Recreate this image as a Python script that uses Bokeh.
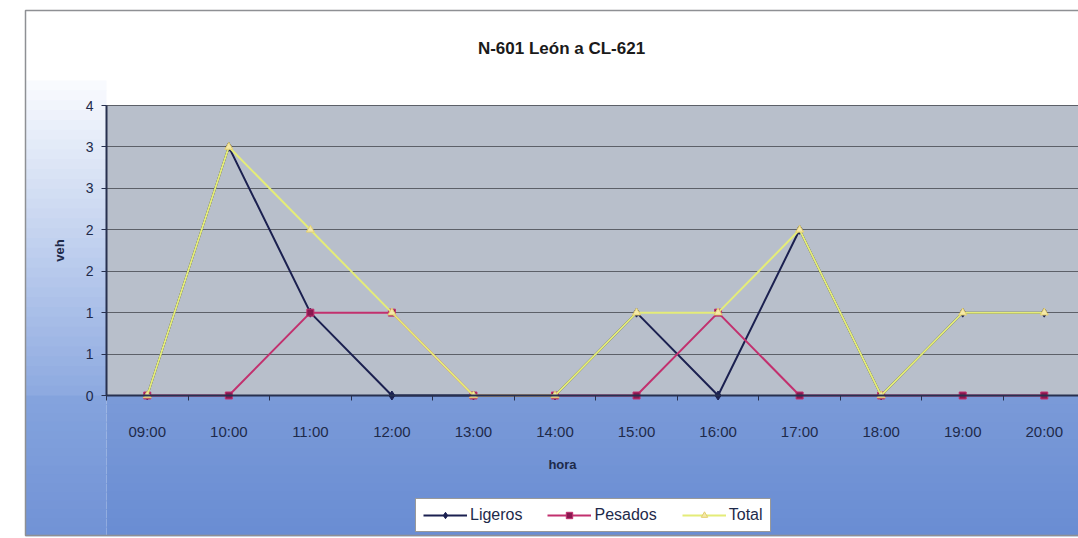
from bokeh.plotting import figure
from bokeh.models import FixedTicker, Label, Legend, LegendItem
from bokeh.embed import file_html
from bokeh.resources import INLINE

# ---- data ----
hours = ["09:00", "10:00", "11:00", "12:00", "13:00", "14:00",
         "15:00", "16:00", "17:00", "18:00", "19:00", "20:00"]
ligeros = [0, 3, 1, 0, 0, 0, 1, 0, 2, 0, 1, 1]
pesados = [0, 0, 1, 1, 0, 0, 0, 1, 0, 0, 0, 0]
total = [0, 3, 2, 1, 0, 0, 1, 1, 2, 0, 1, 1]
y_tick_values = [0, 0.5, 1, 1.5, 2, 2.5, 3, 3.5]
y_tick_labels = ["0", "1", "1", "2", "2", "3", "3", "4"]
title_text = "N-601 León a CL-621"
x_title = "hora"
y_title = "veh"

FONT = "Liberation Sans"
xs = list(range(len(hours)))

# ---- layout geometry (pixels) ----
W, H = 1078, 538
PL, PR, PT, PB = 106, 1078, 105, 395          # plot area in canvas pixels
XMIN, XMAX = -0.5, 11.42                      # plot area x-range
YMIN, YMAX = 0.0, 3.5
sx = (PR - PL) / (XMAX - XMIN)
sy = (PB - PT) / (YMAX - YMIN)


def px2x(px):
    return XMIN + (px - PL) / sx


def px2y(py):
    return YMIN + (PB - py) / sy


p = figure(width=W, height=H, output_backend="svg", toolbar_location=None,
           x_range=(px2x(0), px2x(W)), y_range=(px2y(H), px2y(0)),
           min_border=0, min_border_left=0, min_border_right=0,
           min_border_top=0, min_border_bottom=0)
p.background_fill_color = "#ffffff"
p.border_fill_color = "#ffffff"
p.outline_line_color = None


def lerp(c1, c2, t):
    a = [int(c1[i:i + 2], 16) for i in (1, 3, 5)]
    b = [int(c2[i:i + 2], 16) for i in (1, 3, 5)]
    return "#%02x%02x%02x" % tuple(int(round(a[k] + (b[k] - a[k]) * t)) for k in range(3))


CL, CT, CB = 25, 10, 535
# chart area background: white top, gradient left strip, blue bottom
bl, br, bb, bt, bc = [], [], [], [], []
n = 32
for i in range(n):
    y0 = 80 + (PB - 80) * i / n
    y1 = 80 + (PB - 80) * (i + 1) / n
    bl.append(px2x(CL)); br.append(px2x(PL)); bt.append(px2y(y0)); bb.append(px2y(y1 + 0.8))
    bc.append(lerp("#f8fafe", "#8eaae0", i / (n - 1)))
m = 16
for i in range(m):
    y0 = PB + (CB - PB) * i / m
    y1 = PB + (CB - PB) * (i + 1) / m
    t = i / (m - 1)
    bl.append(px2x(CL)); br.append(px2x(PL)); bt.append(px2y(y0)); bb.append(px2y(y1 + 0.8))
    bc.append(lerp("#84a3dd", "#7293d6", t))
    bl.append(px2x(PL)); br.append(px2x(W) + 1); bt.append(px2y(y0)); bb.append(px2y(y1 + 0.8))
    bc.append(lerp("#7a9ad8", "#6a8dd3", t))
p.quad(left=bl, right=br, top=bt, bottom=bb, fill_color=bc, line_color=None, level="image")
# chart border
p.quad(left=px2x(CL), right=px2x(W + 10), top=px2y(CT), bottom=px2y(CB),
       fill_color=None, line_color="#8e9094", line_width=1.5, level="image")
# plot area
p.quad(left=XMIN, right=XMAX, top=YMAX, bottom=YMIN, fill_color="#b8bfcb",
       line_color="#666a74", line_width=1, level="image")

# axes at fixed locations
p.xaxis.fixed_location = 0
p.yaxis.fixed_location = XMIN
p.xaxis.bounds = (XMIN, XMAX)
p.yaxis.bounds = (YMIN, YMAX)
p.xaxis.ticker = FixedTicker(ticks=xs, minor_ticks=[x + 0.5 for x in range(-1, len(hours))])
p.xaxis.major_label_overrides = {i: h for i, h in enumerate(hours)}
p.yaxis.ticker = FixedTicker(ticks=y_tick_values, minor_ticks=[])
p.yaxis.major_label_overrides = {v: l for v, l in zip(y_tick_values, y_tick_labels)}

for ax in (p.xaxis[0], p.yaxis[0]):
    ax.axis_line_color = "#27304f"
    ax.axis_line_width = 2
    ax.major_label_text_font = FONT
    ax.major_label_text_font_size = "14px"
    ax.major_label_text_color = "#1e2a4a"
    ax.axis_label_text_font = FONT
    ax.axis_label_text_font_size = "13px"
    ax.axis_label_text_font_style = "bold"
    ax.axis_label_text_color = "#1e2a4a"

p.xaxis.major_label_text_font_size = "15px"
p.xaxis.major_tick_line_color = None
p.xaxis.major_tick_out = 0
p.xaxis.major_tick_in = 0
p.xaxis.minor_tick_line_color = "#27304f"
p.xaxis.minor_tick_out = 5
p.xaxis.minor_tick_in = 0
p.xaxis.major_label_standoff = 22

p.yaxis.major_tick_line_color = "#27304f"
p.yaxis.major_tick_out = 5
p.yaxis.major_tick_in = 0
p.yaxis.minor_tick_line_color = None
p.yaxis.major_label_standoff = 8
p.yaxis.axis_label = y_title
p.yaxis.axis_label_standoff = 16

p.xgrid.grid_line_color = None
p.ygrid.grid_line_color = "#5c6068"
p.ygrid.grid_line_width = 1.2
p.ygrid.cross_bounds = (XMIN, XMAX)

# series
l1 = p.line(xs, ligeros, line_color="#1b2050", line_width=2)
s1 = p.scatter(xs, ligeros, marker="diamond", size=9, fill_color="#1b2050", line_color="#1b2050")
l2 = p.line(xs, pesados, line_color="#c2306e", line_width=2)
s2 = p.scatter(xs, pesados, marker="square", size=7, fill_color="#8a1850", line_color="#c2306e")
l3 = p.line(xs, total, line_color="#e4ec78", line_width=2)
s3 = p.scatter(xs, total, marker="triangle", size=8, fill_color="#f4e8a8", line_color="#e4d070")

legend = Legend(items=[LegendItem(label="Ligeros", renderers=[l1, s1]),
                       LegendItem(label="Pesados", renderers=[l2, s2]),
                       LegendItem(label="Total", renderers=[l3, s3])],
                orientation="horizontal", location=(415, H - 532),
                label_text_font=FONT, label_text_font_size="16px",
                label_text_color="#1e2a4a",
                glyph_width=44, glyph_height=16, label_standoff=3, spacing=25,
                padding=7, margin=0,
                border_line_color="#333333", border_line_width=1,
                background_fill_color="#ffffff", background_fill_alpha=1)
p.add_layout(legend, "center")

p.add_layout(Label(x=px2x(561), y=px2y(48), text=title_text, text_font=FONT,
                   text_font_size="17px", text_font_style="bold", text_color="#1a1a1a",
                   text_align="center", text_baseline="middle"))
p.add_layout(Label(x=px2x(562), y=px2y(464), text=x_title, text_font=FONT,
                   text_font_size="13px", text_font_style="bold", text_color="#1e2a4a",
                   text_align="center", text_baseline="middle"))

open("out.html", "w").write(file_html(p, INLINE))
